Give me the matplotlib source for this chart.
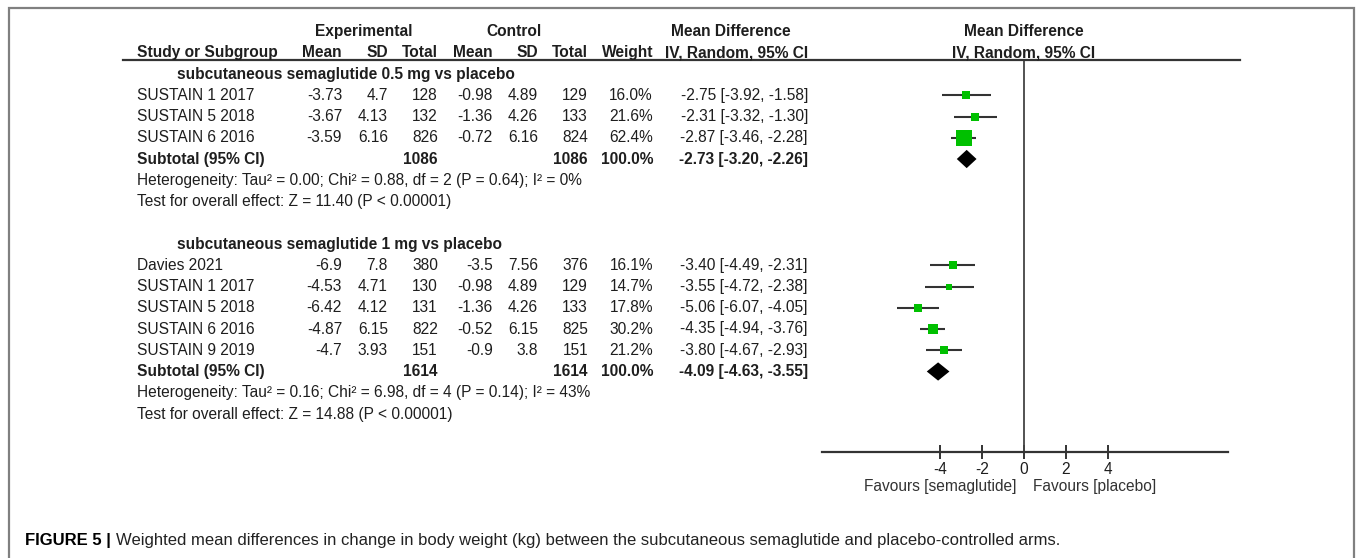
import matplotlib
matplotlib.use("Agg")
import matplotlib.pyplot as plt
import matplotlib.transforms as mtransforms
from matplotlib.patches import Rectangle
from matplotlib.lines import Line2D

plt.rcParams['font.family'] = ['Liberation Sans', 'DejaVu Sans']

W, H = 1357, 558

# ---- data ----
group_titles = ["subcutaneous semaglutide 0.5 mg vs placebo",
                "subcutaneous semaglutide 1 mg vs placebo"]

g1_study = ["SUSTAIN 1 2017", "SUSTAIN 5 2018", "SUSTAIN 6 2016"]
g1_exp_mean = ["-3.73", "-3.67", "-3.59"]
g1_exp_sd = ["4.7", "4.13", "6.16"]
g1_exp_n = [128, 132, 826]
g1_ctl_mean = ["-0.98", "-1.36", "-0.72"]
g1_ctl_sd = ["4.89", "4.26", "6.16"]
g1_ctl_n = [129, 133, 824]
g1_weight = [16.0, 21.6, 62.4]
g1_md = [-2.75, -2.31, -2.87]
g1_lo = [-3.92, -3.32, -3.46]
g1_hi = [-1.58, -1.30, -2.28]
g1_sub = (1086, 1086, -2.73, -3.20, -2.26)
g1_het = "Heterogeneity: Tau\u00b2 = 0.00; Chi\u00b2 = 0.88, df = 2 (P = 0.64); I\u00b2 = 0%"
g1_test = "Test for overall effect: Z = 11.40 (P < 0.00001)"

g2_study = ["Davies 2021", "SUSTAIN 1 2017", "SUSTAIN 5 2018", "SUSTAIN 6 2016", "SUSTAIN 9 2019"]
g2_exp_mean = ["-6.9", "-4.53", "-6.42", "-4.87", "-4.7"]
g2_exp_sd = ["7.8", "4.71", "4.12", "6.15", "3.93"]
g2_exp_n = [380, 130, 131, 822, 151]
g2_ctl_mean = ["-3.5", "-0.98", "-1.36", "-0.52", "-0.9"]
g2_ctl_sd = ["7.56", "4.89", "4.26", "6.15", "3.8"]
g2_ctl_n = [376, 129, 133, 825, 151]
g2_weight = [16.1, 14.7, 17.8, 30.2, 21.2]
g2_md = [-3.40, -3.55, -5.06, -4.35, -3.80]
g2_lo = [-4.49, -4.72, -6.07, -4.94, -4.67]
g2_hi = [-2.31, -2.38, -4.05, -3.76, -2.93]
g2_sub = (1614, 1614, -4.09, -4.63, -3.55)
g2_het = "Heterogeneity: Tau\u00b2 = 0.16; Chi\u00b2 = 6.98, df = 4 (P = 0.14); I\u00b2 = 43%"
g2_test = "Test for overall effect: Z = 14.88 (P < 0.00001)"

ticks = [-4, -2, 0, 2, 4]
fav_left = "Favours [semaglutide]"
fav_right = "Favours [placebo]"
caption_bold = "FIGURE 5 |"
caption = ("Weighted mean differences in change in body weight (kg) between the "
           "subcutaneous semaglutide and placebo-controlled arms.")

groups = [
    (g1_study, g1_exp_mean, g1_exp_sd, g1_exp_n, g1_ctl_mean, g1_ctl_sd, g1_ctl_n,
     g1_weight, g1_md, g1_lo, g1_hi, g1_sub, g1_het, g1_test),
    (g2_study, g2_exp_mean, g2_exp_sd, g2_exp_n, g2_ctl_mean, g2_ctl_sd, g2_ctl_n,
     g2_weight, g2_md, g2_lo, g2_hi, g2_sub, g2_het, g2_test),
]

TXT = '#1e1e1e'
FS = 11.2
GREEN = '#00c000'


def fx(px):
    return px / W


def fy(py):
    return 1 - py / H


fig = plt.figure(figsize=(W / 100, H / 100), dpi=100)

# forest plot axes: top at the header rule, bottom at the x axis
ax_l, ax_r, ax_t, ax_b = 822, 1228, 60, 452
ax = fig.add_axes([fx(ax_l), fy(ax_b), fx(ax_r) - fx(ax_l), fy(ax_t) - fy(ax_b)])
row0, rowh = 74, 21.25
ax.set_xlim(-202 / 21.0, 204 / 21.0)
ax.set_ylim((ax_b - row0) / rowh, (ax_t - row0) / rowh)
for s in ['top', 'right', 'left']:
    ax.spines[s].set_visible(False)
ax.spines['bottom'].set_linewidth(1.6)
ax.spines['bottom'].set_color('#333333')
ax.set_yticks([])
ax.set_xticks(ticks)
ax.set_xticklabels([str(t) for t in ticks], fontsize=FS, color=TXT)
ax.tick_params(axis='x', direction='inout', length=10, width=1.4, color='#333333', pad=2)
ax.axvline(0, color='#444444', lw=1.3)
ax.patch.set_visible(False)

tr = mtransforms.blended_transform_factory(fig.transFigure, ax.transData)


def txt(x, row, s, ha='left', bold=False, size=FS):
    fig.text(fx(x), row, s, transform=tr, ha=ha, va='center', fontsize=size,
             color=TXT, fontweight='bold' if bold else 'normal')


# headers
txt(364, -2, "Experimental", ha='center', bold=True)
txt(514, -2, "Control", ha='center', bold=True)
txt(731, -2, "Mean Difference", ha='center', bold=True)
txt(1024, -2, "Mean Difference", ha='center', bold=True)
hdr = [(137, "Study or Subgroup", 'left'), (342, "Mean", 'right'), (388, "SD", 'right'),
       (438, "Total", 'right'), (493, "Mean", 'right'), (538, "SD", 'right'),
       (588, "Total", 'right'), (653, "Weight", 'right'), (808, "IV, Random, 95% CI", 'right')]
for x, s, ha in hdr:
    txt(x, -1, s, ha=ha, bold=True)
txt(1024, -1, "IV, Random, 95% CI", ha='center', bold=True)
fig.add_artist(Line2D([fx(123), fx(1240)], [fy(60), fy(60)], color='#333333', lw=1.6))

row = 0
for gi, (study, em, esd, en, cm, csd, cn, wt, md, lo, hi, sub, het, test) in enumerate(groups):
    txt(177, row, group_titles[gi], bold=True)
    row += 1
    for i in range(len(study)):
        txt(137, row, study[i])
        txt(342, row, em[i], ha='right')
        txt(388, row, esd[i], ha='right')
        txt(438, row, str(en[i]), ha='right')
        txt(493, row, cm[i], ha='right')
        txt(538, row, csd[i], ha='right')
        txt(588, row, str(cn[i]), ha='right')
        txt(653, row, "%.1f%%" % wt[i], ha='right')
        txt(808, row, "%.2f [%.2f, %.2f]" % (md[i], lo[i], hi[i]), ha='right')
        ax.plot([lo[i], hi[i]], [row, row], color='#333333', lw=1.5, solid_capstyle='butt')
        side = 1.35 * wt[i] ** 0.6
        ax.plot(md[i], row, marker='s', ms=side * 0.72, color=GREEN, mec=GREEN, mew=0)
        row += 1
    ne, nc, smd, slo, shi = sub
    txt(137, row, "Subtotal (95% CI)", bold=True)
    txt(438, row, str(ne), ha='right', bold=True)
    txt(588, row, str(nc), ha='right', bold=True)
    txt(653, row, "100.0%", ha='right', bold=True)
    txt(808, row, "%.2f [%.2f, %.2f]" % (smd, slo, shi), ha='right', bold=True)
    ax.fill([slo, smd, shi, smd], [row, row - 0.43, row, row + 0.43], color='black', lw=0)
    row += 1
    txt(137, row, het)
    row += 1
    txt(137, row, test)
    row += 2

ax.annotate(fav_left, xy=(0, 0), xycoords=('data', 'axes fraction'), xytext=(-7, -35),
            textcoords='offset pixels', ha='right', va='center', fontsize=FS, color='#333333')
ax.annotate(fav_right, xy=(0, 0), xycoords=('data', 'axes fraction'), xytext=(9, -35),
            textcoords='offset pixels', ha='left', va='center', fontsize=FS, color='#333333')

# frame around the chart
fig.add_artist(Rectangle((fx(9), -0.05), fx(1354) - fx(9), fy(8) + 0.05, transform=fig.transFigure,
                         fill=False, edgecolor='#808080', lw=1.6))

# caption
t1 = fig.text(fx(25), fy(540), caption_bold, ha='left', va='center', fontsize=12,
              fontweight='bold', color='black')
fig.canvas.draw()
bb = t1.get_window_extent()
fig.text((bb.x1 + 5) / W, fy(540), caption, ha='left', va='center', fontsize=12, color='#222222')

fig.savefig("out.png", dpi=100)
